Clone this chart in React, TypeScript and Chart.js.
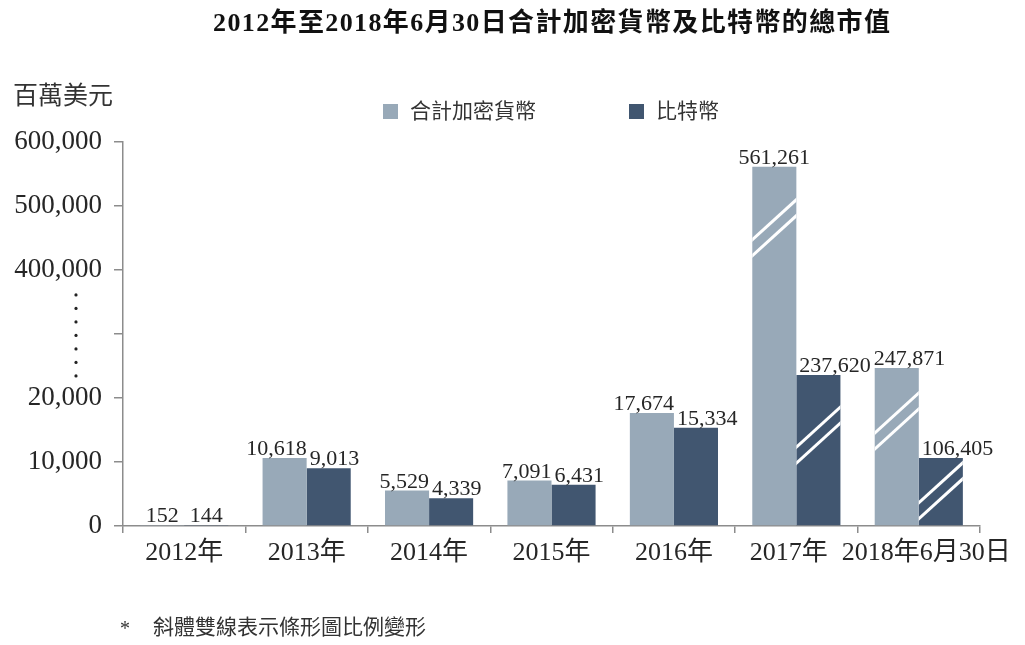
import React, { useEffect, useRef } from "react";
import { Chart, registerables } from "chart.js";

Chart.register(...registerables);

// ---------- data ----------
const titleText = "2012年至2018年6月30日合計加密貨幣及比特幣的總市值";
const unitLabel = "百萬美元";
const footnote = "斜體雙線表示條形圖比例變形";
const categories = ["2012年", "2013年", "2014年", "2015年", "2016年", "2017年", "2018年6月30日"];
const seriesNames = ["合計加密貨幣", "比特幣"];
const cryptoValues = [152, 10618, 5529, 7091, 17674, 561261, 247871];
const bitcoinValues = [144, 9013, 4339, 6431, 15334, 237620, 106405];
// heights as drawn on the broken axis (axis units; 40,000 unit = 400,000 on the upper section)
const cryptoDrawn = [152, 10618, 5529, 7091, 17674, 56126, 24700];
const bitcoinDrawn = [144, 9013, 4339, 6431, 15334, 23600, 10625];
// where the "distorted scale" double slash sits on a bar (axis units), null = none
const cryptoBreaks: (number | null)[] = [null, null, null, null, null, 46600, 16400];
const bitcoinBreaks: (number | null)[] = [null, null, null, null, null, 14200, 5500];
const yTickLabels = ["0", "10,000", "20,000", "", "400,000", "500,000", "600,000"];
const yMax = 60000;
const yStep = 10000;
// axis-break dots span (axis units)
const breakDotsFrom = 36100;
const breakDotsTo = 23450;

const colors = ["#98a9b8", "#415670"];
const FONT = '"Liberation Serif", "Noto Sans CJK TC", serif';
const TEXT = "#262626";
const AXIS = "#8c8c8c";

const fmt = (v: number) => v.toLocaleString("en-US");

type Box = { l: number; r: number; t: number; b: number };
const overlaps = (a: Box, b: Box) => a.l < b.r && b.l < a.r && a.t < b.b && b.t < a.b;

const decorPlugin = {
  id: "decor",
  afterDatasetsDraw(chart: any) {
    const ctx = chart.ctx;
    const yScale = chart.scales.y;
    const xScale = chart.scales.x;
    const breaks = [cryptoBreaks, bitcoinBreaks];
    const values = [cryptoValues, bitcoinValues];
    const metas = [chart.getDatasetMeta(0), chart.getDatasetMeta(1)];
    // break marks
    [0, 1].forEach((di) => {
      metas[di].data.forEach((bar: any, i: number) => {
        const b = breaks[di][i];
        if (b == null) return;
        const left = bar.x - bar.width / 2;
        const right = bar.x + bar.width / 2;
        const top = bar.y;
        const bottom = bar.base;
        const yc = yScale.getPixelForValue(b);
        const slope = 0.91;
        ctx.save();
        ctx.beginPath();
        ctx.rect(left, top, right - left, bottom - top);
        ctx.clip();
        ctx.strokeStyle = "#ffffff";
        ctx.lineWidth = 3;
        [-8, 8].forEach((off) => {
          const y0 = yc + off + slope * (bar.x - left + 4);
          const y1 = yc + off - slope * (right - bar.x + 4);
          ctx.beginPath();
          ctx.moveTo(left - 4, y0);
          ctx.lineTo(right + 4, y1);
          ctx.stroke();
        });
        ctx.restore();
      });
    });
    // value labels with simple collision avoidance
    ctx.save();
    ctx.font = `22px ${FONT}`;
    ctx.fillStyle = TEXT;
    ctx.textAlign = "left";
    ctx.textBaseline = "alphabetic";
    const H = 16;
    const gap = 3;
    let prev: Box | null = null;
    categories.forEach((_, i) => {
      const b1 = metas[0].data[i];
      const b2 = metas[1].data[i];
      const t1 = fmt(values[0][i]);
      const t2 = fmt(values[1][i]);
      const w1 = ctx.measureText(t1).width;
      const w2 = ctx.measureText(t2).width;
      const y1 = b1.y - 3;
      const y2 = b2.y - 3;
      const L1: Box = { l: b1.x - w1 / 2, r: b1.x + w1 / 2, t: y1 - H, b: y1 };
      const L2: Box = { l: b2.x - w2 / 2, r: b2.x + w2 / 2, t: y2 - H, b: y2 };
      const bar1: Box = { l: b1.x - b1.width / 2, r: b1.x + b1.width / 2, t: b1.y, b: b1.base };
      if (overlaps(L2, bar1)) {
        const shift = bar1.r + gap - L2.l;
        L2.l += shift;
        L2.r += shift;
      }
      if (prev && overlaps(L1, prev)) {
        const shift = prev.r + gap - L1.l;
        L1.l += shift;
        L1.r += shift;
      }
      if (overlaps({ ...L1, r: L1.r + gap }, L2)) {
        const shift = L1.r - (L2.l - gap);
        L1.l -= shift;
        L1.r -= shift;
      }
      ctx.fillText(t1, L1.l, y1);
      ctx.fillText(t2, L2.l, y2);
      prev = L2;
    });
    ctx.restore();

    // category labels, pushed apart where they would collide
    ctx.save();
    ctx.font = `26px ${FONT}`;
    ctx.fillStyle = TEXT;
    ctx.textAlign = "left";
    ctx.textBaseline = "middle";
    const boxes = categories.map((c, i) => {
      const w = ctx.measureText(c).width;
      const x = xScale.getPixelForValue(i);
      return { l: x - w / 2, r: x + w / 2 };
    });
    const minGap = 14;
    for (let i = 1; i < boxes.length; i++) {
      const ov = boxes[i - 1].r + minGap - boxes[i].l;
      if (ov > 0) {
        boxes[i - 1].l -= ov / 2;
        boxes[i - 1].r -= ov / 2;
        boxes[i].l += ov / 2;
        boxes[i].r += ov / 2;
      }
    }
    const ly = xScale.top + 27;
    categories.forEach((c, i) => ctx.fillText(c, boxes[i].l, ly));
    ctx.restore();
  },
  afterDraw(chart: any) {
    const ctx = chart.ctx;
    const area = chart.chartArea;
    const cx = (area.left + area.right) / 2;
    ctx.save();
    // title
    ctx.font = `bold 26px ${FONT}`;
    ctx.fillStyle = "#111";
    ctx.textBaseline = "middle";
    ctx.textAlign = "center";
    const targetW = 677;
    const w = ctx.measureText(titleText).width;
    const n = Array.from(titleText).length;
    const ls = Math.max(0, (targetW - w) / (n - 1));
    (ctx as any).letterSpacing = `${ls}px`;
    ctx.fillText(titleText, cx + ls / 2, 24);
    (ctx as any).letterSpacing = "0px";

    // unit label
    ctx.font = `25px ${FONT}`;
    ctx.fillStyle = "#333";
    ctx.textAlign = "left";
    ctx.fillText(unitLabel, 13, 97);

    // legend
    ctx.font = `21px ${FONT}`;
    const legendX = [383, 629];
    seriesNames.forEach((name, i) => {
      ctx.fillStyle = colors[i];
      ctx.fillRect(legendX[i], 104, 15, 15);
      ctx.fillStyle = "#333";
      ctx.fillText(name, legendX[i] + 27, 112);
    });

    // footnote
    ctx.font = `20px ${FONT}`;
    ctx.fillText("*", 120, 630);
    ctx.font = `21px ${FONT}`;
    ctx.fillText(footnote, 153, 628);

    // dots marking the axis break
    const yA = chart.scales.y;
    const yTop = yA.getPixelForValue(breakDotsFrom);
    const yBot = yA.getPixelForValue(breakDotsTo);
    ctx.fillStyle = "#222";
    for (let k = 0; k < 7; k++) {
      const y = yTop + ((yBot - yTop) * k) / 6;
      ctx.beginPath();
      ctx.arc(76, y, 1.6, 0, Math.PI * 2);
      ctx.fill();
    }
    ctx.restore();
  },
};

export default function App() {
  const ref = useRef<HTMLCanvasElement | null>(null);
  useEffect(() => {
    if (!ref.current) return;
    const chart = new Chart(ref.current, {
      type: "bar",
      data: {
        labels: categories,
        datasets: [
          { label: seriesNames[0], data: cryptoDrawn, backgroundColor: colors[0], borderWidth: 0 },
          { label: seriesNames[1], data: bitcoinDrawn, backgroundColor: colors[1], borderWidth: 0 },
        ],
      },
      options: {
        responsive: false,
        animation: false,
        layout: { padding: { top: 142, right: 45, left: 0, bottom: 0 } },
        datasets: { bar: { categoryPercentage: 0.72, barPercentage: 1.0 } },
        plugins: {
          legend: { display: false },
          title: { display: false },
          tooltip: { enabled: false },
        },
        scales: {
          x: {
            grid: {
              offset: true,
              drawOnChartArea: false,
              drawTicks: true,
              tickLength: 7,
              color: AXIS,
              lineWidth: 1.5,
            },
            border: { display: true, color: AXIS, width: 1.5 },
            ticks: { display: false },
            afterFit: (s: any) => {
              s.height = 119;
            },
          },
          y: {
            min: 0,
            max: yMax,
            grid: {
              drawOnChartArea: false,
              drawTicks: true,
              tickLength: 9,
              color: AXIS,
              lineWidth: 1.5,
            },
            border: { display: true, color: AXIS, width: 1.5 },
            ticks: {
              stepSize: yStep,
              color: TEXT,
              font: { family: FONT, size: 27 },
              padding: 12,
              callback: (v: any) => {
                const idx = Math.round(Number(v) / yStep);
                return yTickLabels[idx] ?? "";
              },
            },
            afterFit: (s: any) => {
              s.width = 123;
            },
          },
        },
      },
      plugins: [decorPlugin],
    });
    return () => chart.destroy();
  }, []);
  return (
    <div style={{ position: "fixed", left: 0, top: 0, width: 1025, height: 645, background: "#fff" }}>
      <canvas ref={ref} width={1025} height={645} />
    </div>
  );
}
